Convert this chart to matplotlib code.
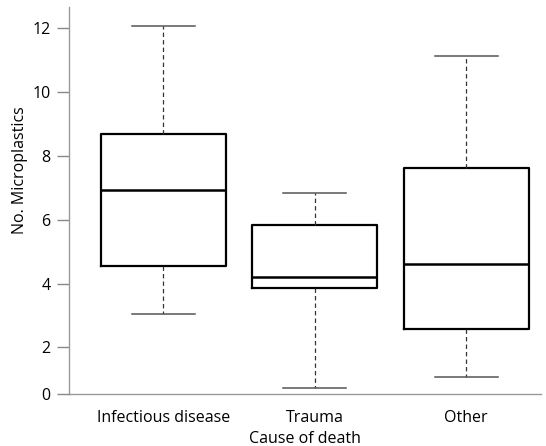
import matplotlib
matplotlib.use("Agg")
import matplotlib.pyplot as plt

plt.rcParams['font.family'] = ['Open Sans', 'DejaVu Sans']

categories = ["Infectious disease", "Trauma", "Other"]
whisker_low = [3.04, 0.72, 1.08]
q1 = [4.54, 3.85, 2.56]
median = [6.92, 4.21, 4.62]
q3 = [8.67, 5.82, 7.61]
whisker_high = [12.07, 6.83, 11.14]
ytick_vals = [0.53, 2, 4, 6, 8, 10, 12]
ytick_labels = ["0", "2", "4", "6", "8", "10", "12"]

stats = []
for i, c in enumerate(categories):
    stats.append(dict(label=c, whislo=whisker_low[i], q1=q1[i], med=median[i],
                      q3=q3[i], whishi=whisker_high[i], fliers=[]))

fig = plt.figure(figsize=(5.46, 4.46), dpi=100)
ax = fig.add_axes([0.127, 0.116, 0.864, 0.868])

ax.bxp(stats, positions=[1, 2, 3], widths=0.825, capwidths=0.416,
       showfliers=False,
       boxprops=dict(color="black", linewidth=1.6),
       medianprops=dict(color="black", linewidth=1.8),
       whiskerprops=dict(color="#333333", linewidth=0.9, linestyle=(0, (3.5, 2.5))),
       capprops=dict(color="#555555", linewidth=1.1))

fs = 11.5
ax.set_xlim(0.378, 3.495)
ax.set_ylim(0.53, 12.66)
ax.set_yticks(ytick_vals)
ax.set_yticklabels(ytick_labels, fontsize=fs)
ax.tick_params(axis='y', length=8.5, width=1.0, color="#888888", pad=5)
ax.tick_params(axis='x', length=0, pad=11, labelsize=fs)

for s in ["top", "right"]:
    ax.spines[s].set_visible(False)
ax.spines["left"].set_color("#999999")
ax.spines["bottom"].set_color("#999999")
ax.spines["left"].set_linewidth(1.0)
ax.spines["bottom"].set_linewidth(1.0)

ax.set_xlabel("Cause of death", fontsize=fs, labelpad=4)
ax.set_ylabel("No. Microplastics", fontsize=fs)
ax.yaxis.set_label_coords(-0.088, 0.579)

fig.savefig("out.png", dpi=100)
